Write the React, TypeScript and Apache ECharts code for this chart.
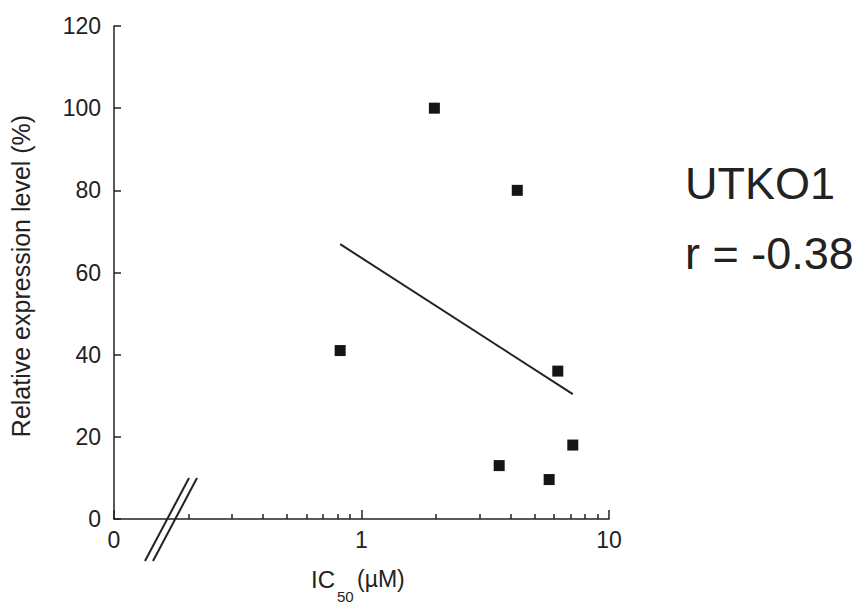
import React, { useEffect, useRef } from "react";
import * as echarts from "echarts";

// Data
const icValues = [0.82, 1.97, 4.26, 6.21, 7.14, 3.6, 5.73];
const expressionValues = [41, 100, 80, 36, 18, 13, 9.6];
const fitX = [0.82, 7.14];
const fitY = [66.9, 30.4];
const minorTickValues = [0.2, 0.3, 0.4, 0.5, 0.6, 0.7, 0.8, 0.9, 2, 3, 4, 5, 6, 7, 8, 9];
const yTickMax = 120;
const yTickStep = 20;
const cellName = "UTKO1";
const rText = "r = -0.38";

const FONT = "'Liberation Sans', Arial, sans-serif";
const INK = "#222222";

export default function App() {
  const ref = useRef<HTMLDivElement>(null);

  useEffect(() => {
    if (!ref.current) return;
    const chart = echarts.init(ref.current, undefined, { renderer: "svg" });
    const points = icValues.map((x, i) => [x, expressionValues[i]]);
    const fit = fitX.map((x, i) => [x, fitY[i]]);

    chart.setOption({
      animation: false,
      backgroundColor: "#ffffff",
      grid: { left: 114, right: 254, top: 26, bottom: 89, outerBoundsMode: "none" },
      xAxis: [
        {
          type: "log",
          logBase: 10,
          min: 0.1,
          max: 10,
          position: "bottom",
          axisLine: { show: true, onZero: false, lineStyle: { color: INK, width: 1.5 } },
          axisTick: { show: true, inside: true, length: 9, lineStyle: { color: INK, width: 1.5 } },
          axisLabel: {
            show: true,
            margin: 9,
            fontSize: 23,
            fontFamily: FONT,
            color: INK,
            formatter: (v: number) => (v < 0.5 ? "0" : String(Math.round(v))),
          },
          splitLine: { show: false },
          minorTick: { show: false },
        },
        {
          type: "value",
          min: -1,
          max: 1,
          position: "bottom",
          axisLine: { show: false, onZero: false },
          axisTick: {
            show: true,
            inside: true,
            length: 5,
            customValues: minorTickValues.map((v) => Math.log10(v)),
            lineStyle: { color: INK, width: 1.5 },
          },
          axisLabel: { show: false },
          splitLine: { show: false },
        },
      ],
      yAxis: {
        type: "value",
        min: 0,
        max: yTickMax,
        interval: yTickStep,
        axisLine: { show: true, onZero: false, lineStyle: { color: INK, width: 1.5 } },
        axisTick: { show: true, inside: true, length: 7, lineStyle: { color: INK, width: 1.5 } },
        axisLabel: { margin: 13, fontSize: 23, fontFamily: FONT, color: INK },
        splitLine: { show: false },
      },
      series: [
        {
          type: "scatter",
          xAxisIndex: 0,
          data: points,
          symbol: "rect",
          symbolSize: 11,
          itemStyle: { color: "#151515", opacity: 1 },
        },
        {
          type: "line",
          xAxisIndex: 0,
          data: fit,
          symbol: "none",
          lineStyle: { color: INK, width: 2 },
        },
      ],
      graphic: [
        {
          type: "line",
          shape: { x1: 145, y1: 561, x2: 189, y2: 478 },
          style: { stroke: INK, lineWidth: 2 },
        },
        {
          type: "line",
          shape: { x1: 153, y1: 561, x2: 197, y2: 478 },
          style: { stroke: INK, lineWidth: 2 },
        },
        {
          type: "text",
          x: 21,
          y: 276,
          rotation: Math.PI / 2,
          style: {
            text: "Relative expression level (%)",
            fontSize: 25,
            fontFamily: FONT,
            fill: INK,
            align: "center",
            verticalAlign: "middle",
          },
        },
        {
          type: "text",
          x: 311,
          y: 579,
          style: { text: "IC", fontSize: 24, fontFamily: FONT, fill: INK, align: "left", verticalAlign: "middle" },
        },
        {
          type: "text",
          x: 337,
          y: 596,
          style: { text: "50", fontSize: 15, fontFamily: FONT, fill: INK, align: "left", verticalAlign: "middle" },
        },
        {
          type: "text",
          x: 357,
          y: 579,
          style: { text: "(µM)", fontSize: 23, fontFamily: FONT, fill: INK, align: "left", verticalAlign: "middle" },
        },
        {
          type: "text",
          x: 685,
          y: 183,
          style: { text: cellName, fontSize: 45, fontFamily: FONT, fill: INK, align: "left", verticalAlign: "middle" },
        },
        {
          type: "text",
          x: 685,
          y: 253,
          style: { text: rText, fontSize: 45, fontFamily: FONT, fill: INK, align: "left", verticalAlign: "middle" },
        },
      ],
    });

    return () => chart.dispose();
  }, []);

  return (
    <div
      ref={ref}
      style={{ position: "fixed", left: 0, top: 0, width: 863, height: 608, background: "#fff" }}
    />
  );
}
